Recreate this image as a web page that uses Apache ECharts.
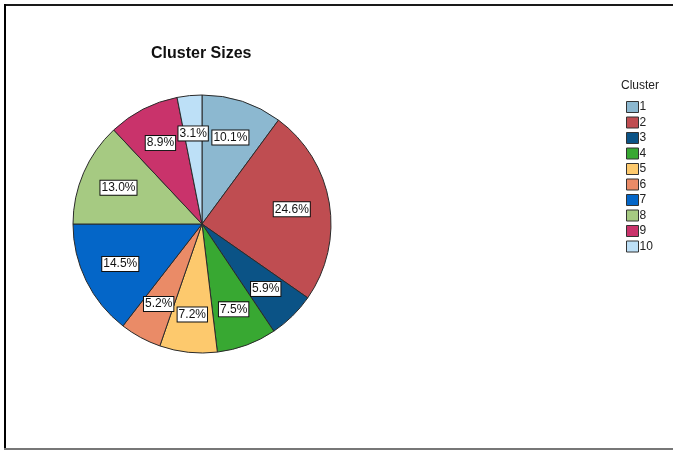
<!DOCTYPE html>
<html>
<head>
<meta charset="utf-8">
<script src="https://cdn.jsdelivr.net/npm/echarts@6/dist/echarts.min.js"></script>
<style>
  html, body { margin: 0; padding: 0; background: #fff; }
  #chart { width: 673px; height: 450px; }
</style>
</head>
<body>
<div id="chart"></div>
<script>
// Cluster membership shares, in percent
const clusters = ['1', '2', '3', '4', '5', '6', '7', '8', '9', '10'];
const shares = [10.1, 24.6, 5.9, 7.5, 7.2, 5.2, 14.5, 13.0, 8.9, 3.1];
const sliceColors = ['#8cb8d0', '#bf4d51', '#0b5386', '#38a832', '#fdc96d',
                     '#ea8b67', '#0466c8', '#a6ca82', '#c9336b', '#bde0f7'];

const pieData = clusters.map((name, i) => ({
  name: name,
  value: shares[i],
  itemStyle: { color: sliceColors[i] }
}));

const chart = echarts.init(document.getElementById('chart'), null, { renderer: 'canvas' });

const FONT = 'Liberation Sans, Arial, sans-serif';

chart.setOption({
  animation: false,
  title: [
    {
      text: 'Cluster Sizes',
      left: 151,
      top: 46,
      padding: 0,
      textStyle: { fontFamily: FONT, fontSize: 16, fontWeight: 'bold', color: '#111' }
    },
    {
      text: 'Cluster',
      left: 621,
      top: 80,
      padding: 0,
      textStyle: { fontFamily: FONT, fontSize: 12, fontWeight: 'normal', color: '#222' }
    }
  ],
  legend: {
    orient: 'vertical',
    left: 626,
    top: 101,
    padding: 0,
    icon: 'rect',
    itemWidth: 12,
    itemHeight: 11,
    itemGap: 3.5,
    data: clusters,
    selectedMode: false,
    itemStyle: { borderColor: '#333', borderWidth: 1 },
    textStyle: { fontFamily: FONT, fontSize: 12, color: '#222', padding: [0, 0, 0, -4] }
  },
  graphic: [
    { type: 'line', shape: { x1: 4, y1: 5, x2: 673, y2: 5 }, style: { stroke: '#1a1a1a', lineWidth: 2 } },
    { type: 'line', shape: { x1: 5, y1: 4, x2: 5, y2: 450 }, style: { stroke: '#000', lineWidth: 2 } },
    { type: 'line', shape: { x1: 4, y1: 449, x2: 673, y2: 449 }, style: { stroke: '#777', lineWidth: 2 } }
  ],
  series: [
    {
      type: 'pie',
      center: [202, 224],
      radius: [0, 129],
      startAngle: 90,
      clockwise: true,
      silent: true,
      label: { show: false },
      labelLine: { show: false },
      itemStyle: { borderColor: '#2a2a2a', borderWidth: 1 },
      data: pieData
    },
    {
      // transparent ring that only carries the percentage labels
      type: 'pie',
      center: [202, 224],
      radius: [47, 129],
      startAngle: 90,
      clockwise: true,
      silent: true,
      legendHoverLink: false,
      itemStyle: { color: 'rgba(0,0,0,0)', borderWidth: 0 },
      labelLine: { show: false },
      label: {
        show: true,
        position: 'inside',
        formatter: p => p.value.toFixed(1) + '%',
        fontFamily: FONT,
        fontSize: 12,
        color: '#111',
        backgroundColor: '#fff',
        borderColor: '#111',
        borderWidth: 1,
        padding: [1, 1, 0, 1],
        lineHeight: 13
      },
      data: clusters.map((name, i) => ({ name: name, value: shares[i] }))
    }
  ]
});
</script>
</body>
</html>
